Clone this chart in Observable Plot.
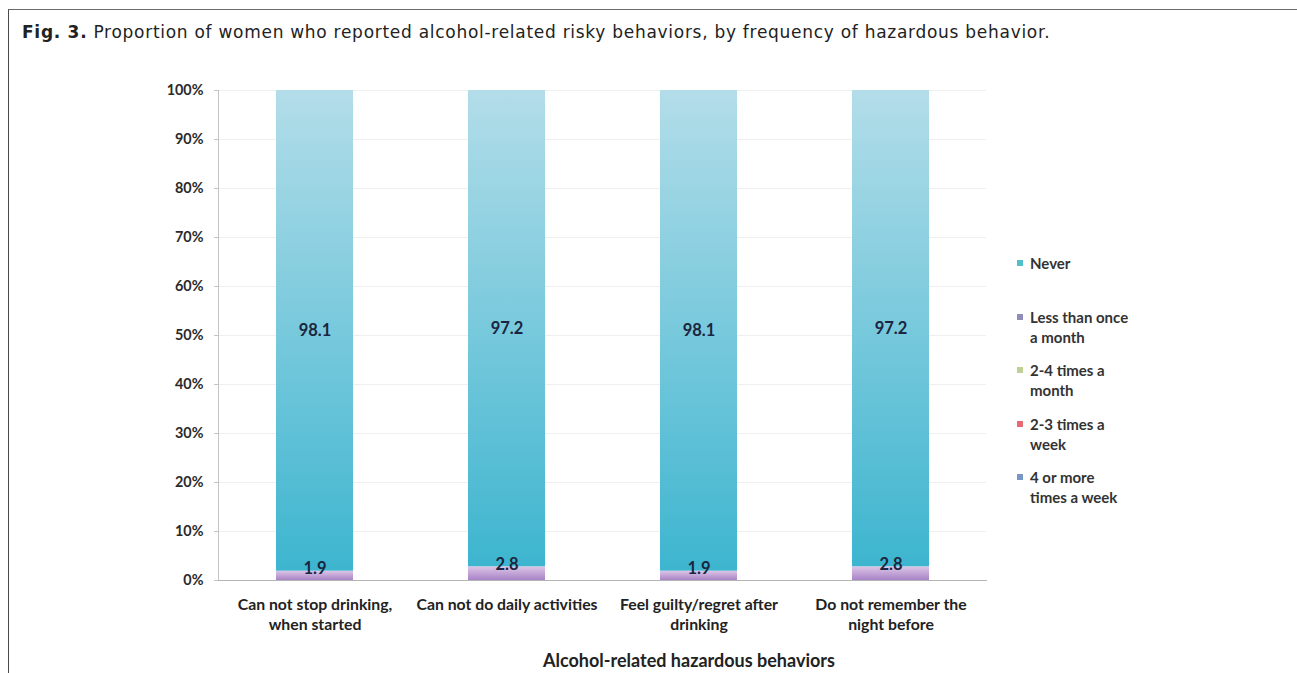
<!DOCTYPE html>
<html>
<head>
<meta charset="utf-8">
<script src="https://cdn.jsdelivr.net/npm/d3@7"></script>
<script src="https://cdn.jsdelivr.net/npm/@observablehq/plot@0.6"></script>
<style>
  html, body { margin: 0; padding: 0; background: #fff; }
  #page { position: relative; width: 1297px; height: 673px; overflow: hidden; font-family: Lato, sans-serif; }
  #frame { position: absolute; left: 8px; top: 9px; right: -10px; bottom: -10px; border-left: 1.5px solid #4a4a4a; border-top: 1.5px solid #6a6a6a; }
  #title { position: absolute; left: 22px; top: 21px; line-height: 22px; font-family: "DejaVu Sans", sans-serif; font-size: 17px; letter-spacing: 0.72px; color: #222; white-space: nowrap; }
  #title b { font-weight: 700; }
  #chart { position: absolute; left: 0; top: 50px; }
  #xtitle { position: absolute; left: 543px; top: 650px; line-height: 20px; font-family: Lato, sans-serif; font-weight: 700; font-size: 18px; color: #222; white-space: nowrap; }
  #legend { position: absolute; left: 1017px; top: 253px; font-family: Lato, sans-serif; font-weight: 700; font-size: 15px; color: #333; }
  .item { height: 53.5px; display: flex; align-items: flex-start; }
  .sw { width: 6px; height: 6px; margin-top: 7px; margin-right: 7px; flex: none; }
  .lab { white-space: pre-line; line-height: 20px; }
</style>
</head>
<body>
<div id="page">
  <div id="frame"></div>
  <div id="title"><b>Fig. 3.</b> Proportion of women who reported alcohol-related risky behaviors, by frequency of hazardous behavior.</div>
  <div id="chart"></div>
  <div id="xtitle">Alcohol-related hazardous behaviors</div>
  <div id="legend"></div>
</div>
<script>
// ---- data ----
const behaviors = [
  "Can not stop drinking,\nwhen started",
  "Can not do daily activities",
  "Feel guilty/regret after\ndrinking",
  "Do not remember the\nnight before"
];
// stacking order, bottom to top
const frequencies = [
  "4 or more times a week",
  "2-3 times a week",
  "2-4 times a month",
  "Less than once a month",
  "Never"
];
const fourOrMoreWeek   = [0, 0, 0, 0];
const twoToThreeWeek   = [0, 0, 0, 0];
const twoToFourMonth   = [0, 0, 0, 0];
const lessThanMonthly  = [1.9, 2.8, 1.9, 2.8];
const never            = [98.1, 97.2, 98.1, 97.2];
const seriesValues = [fourOrMoreWeek, twoToThreeWeek, twoToFourMonth, lessThanMonthly, never];

// legend (top to bottom as in the figure)
const legendLabels = ["Never", "Less than once\na month", "2-4 times a\nmonth", "2-3 times a\nweek", "4 or more\ntimes a week"];
const legendColors = ["#52bfcc", "#8e8cb8", "#c0d095", "#e66a74", "#7896c4"];
const yTicks = [0, 10, 20, 30, 40, 50, 60, 70, 80, 90, 100];

// gradients per series
const gradients = {
  "4 or more times a week": ["#9fb6dc", "#5f80b5"],
  "2-3 times a week": ["#f0a0a4", "#d4545c"],
  "2-4 times a month": ["#d8e4b8", "#a9bf78"],
  "Less than once a month": ["#ddc6e8", "#a883c6"],
  "Never": ["#b3dde9", "#3db5cf"]
};

// ---- table ----
const rows = [];
frequencies.forEach((f, i) => {
  behaviors.forEach((b, j) => rows.push({behavior: b, frequency: f, value: seriesValues[i][j]}));
});
const neverLabels = behaviors.map((b, j) => ({behavior: b, y: lessThanMonthly[j] + never[j] / 2, text: never[j].toFixed(1)}));
const lessLabels = behaviors.map((b, j) => ({behavior: b, y: lessThanMonthly[j], text: lessThanMonthly[j].toFixed(1)}));

const gradIds = frequencies.map((f, i) => "grad" + i);

const plot = Plot.plot({
  width: 1297,
  height: 623,
  marginLeft: 218,
  marginRight: 311,
  marginTop: 40,
  marginBottom: 93,
  style: {fontFamily: "Lato, sans-serif", fontWeight: "bold", color: "#333", background: "transparent"},
  x: {domain: behaviors, paddingInner: 0.6, paddingOuter: 0.3},
  y: {domain: [0, 100]},
  color: {domain: frequencies, range: gradIds.map(id => `url(#${id})`)},
  marks: [
    Plot.gridY(yTicks, {stroke: "#efefef", strokeOpacity: 1}),
    Plot.barY(rows, Plot.stackY({x: "behavior", y: "value", fill: "frequency", order: frequencies})),
    Plot.frame({anchor: "left", stroke: "#c4c4c4"}),
    Plot.frame({anchor: "bottom", stroke: "#b4b4b4"}),
    Plot.axisY(yTicks, {tickFormat: d => d + "%", tickSize: 4, tickPadding: 11, fontSize: 14.4, stroke: "#c4c4c4", fill: "#2a2a2a", label: null}),
    Plot.axisX({tickSize: 0, tickPadding: 15, fontSize: 15.8, lineHeight: 1.27, fill: "#222", label: null}),
    Plot.text(neverLabels, {x: "behavior", y: "y", text: "text", fontSize: 16.5, fill: "#1b2540"}),
    Plot.text(lessLabels, {x: "behavior", y: "y", text: "text", fontSize: 16.5, fill: "#1b2540", dy: -2})
  ]
});

const defs = d3.select(plot).insert("defs", ":first-child");
frequencies.forEach((f, i) => {
  const g = defs.append("linearGradient").attr("id", gradIds[i]).attr("x1", 0).attr("y1", 0).attr("x2", 0).attr("y2", 1);
  g.append("stop").attr("offset", "0%").attr("stop-color", gradients[f][0]);
  g.append("stop").attr("offset", "100%").attr("stop-color", gradients[f][1]);
});
document.getElementById("chart").appendChild(plot);

// legend
const leg = d3.select("#legend");
legendLabels.forEach((l, i) => {
  const row = leg.append("div").attr("class", "item");
  row.append("div").attr("class", "sw").style("background", legendColors[i]);
  row.append("div").attr("class", "lab").text(l);
});
</script>
</body>
</html>
